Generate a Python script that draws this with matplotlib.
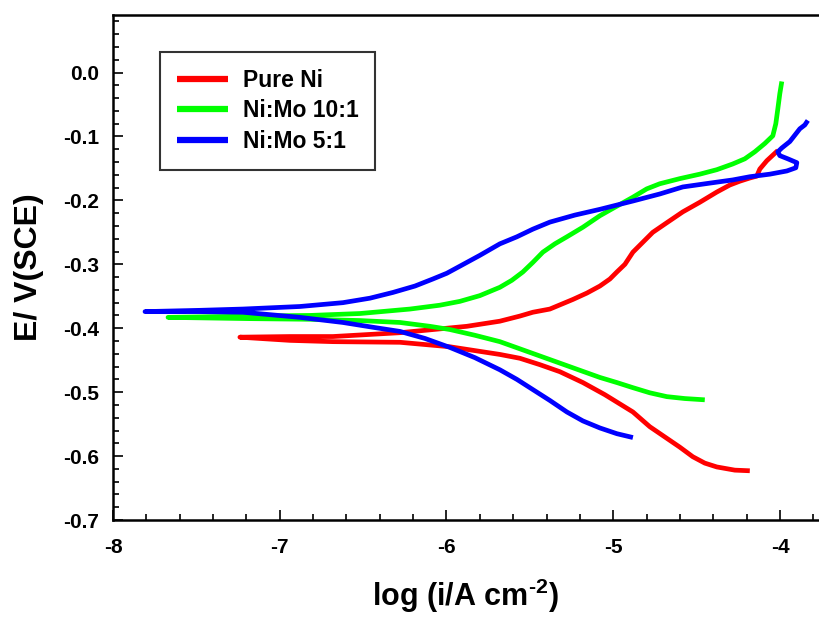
import matplotlib
matplotlib.use("Agg")
import matplotlib.pyplot as plt
from matplotlib.ticker import MultipleLocator

plt.rcParams['font.family'] = ['Liberation Sans', 'DejaVu Sans']
plt.rcParams['font.weight'] = 'bold'
plt.rcParams['axes.unicode_minus'] = False
plt.rcParams['mathtext.fontset'] = 'custom'
plt.rcParams['mathtext.rm'] = 'Liberation Sans:bold'
plt.rcParams['mathtext.bf'] = 'Liberation Sans:bold'

# Pure Ni: cathodic end -> Ecorr tip -> anodic end
ni_logi = [-4.181, -4.271, -4.379, -4.451, -4.523, -4.601, -4.781, -4.882, -5.050, -5.182,
           -5.320, -5.440, -5.560, -5.680, -5.980, -6.279, -6.681, -6.939,
           -7.239,
           -6.939, -6.681, -6.279, -5.878, -5.680, -5.560, -5.482, -5.380, -5.242, -5.158,
           -5.080, -5.020, -4.978, -4.930, -4.882, -4.763, -4.679, -4.583, -4.481, -4.379,
           -4.301, -4.241, -4.181, -4.139, -4.121, -4.079, -4.013]
ni_E = [-0.623, -0.622, -0.617, -0.611, -0.601, -0.586, -0.554, -0.531, -0.504, -0.485,
        -0.468, -0.457, -0.447, -0.441, -0.429, -0.422, -0.421, -0.419,
        -0.414,
        -0.413, -0.413, -0.407, -0.397, -0.389, -0.381, -0.375, -0.370, -0.355, -0.345,
        -0.334, -0.323, -0.312, -0.300, -0.281, -0.250, -0.235, -0.218, -0.203, -0.187,
        -0.176, -0.170, -0.165, -0.162, -0.151, -0.138, -0.122]

# Ni:Mo 10:1
m10_logi = [-4.451, -4.571, -4.679, -4.781, -4.882, -4.978, -5.080, -5.230, -5.380, -5.530,
            -5.680, -5.830, -5.980, -6.100, -6.279, -6.519, -6.819, -7.179,
            -7.670,
            -7.179, -6.819, -6.519, -6.219, -6.040, -5.920, -5.800, -5.680, -5.608, -5.542,
            -5.482, -5.422, -5.350, -5.278, -5.182, -5.080, -4.978, -4.882, -4.799, -4.721,
            -4.601, -4.481, -4.379, -4.283, -4.211, -4.151, -4.091, -4.043, -4.025, -4.013,
            -4.001, -3.989]
m10_E = [-0.512, -0.510, -0.507, -0.501, -0.493, -0.485, -0.477, -0.463, -0.449, -0.435,
         -0.421, -0.411, -0.402, -0.397, -0.391, -0.388, -0.386, -0.385,
         -0.383,
         -0.381, -0.380, -0.377, -0.370, -0.364, -0.358, -0.349, -0.336, -0.325, -0.312,
         -0.297, -0.281, -0.268, -0.257, -0.242, -0.224, -0.209, -0.195, -0.182, -0.174,
         -0.166, -0.159, -0.152, -0.143, -0.135, -0.124, -0.111, -0.099, -0.080, -0.057,
         -0.033, -0.014]

# Ni:Mo 5:1
m5_logi = [-4.882, -4.978, -5.080, -5.182, -5.278, -5.380, -5.482, -5.578, -5.680, -5.830,
           -5.980, -6.129, -6.279, -6.429, -6.621, -6.879, -7.221, -7.478,
           -7.808,
           -7.478, -7.221, -6.879, -6.621, -6.459, -6.321, -6.189, -6.082, -5.998, -5.920,
           -5.800, -5.680, -5.578, -5.482, -5.380, -5.230, -5.080, -4.882, -4.721, -4.583,
           -4.421, -4.283, -4.181, -4.061, -3.959, -3.905, -3.899, -3.953, -4.001, -4.013,
           -3.989, -3.941, -3.881, -3.851, -3.833]
m5_E = [-0.571, -0.565, -0.556, -0.545, -0.531, -0.513, -0.496, -0.480, -0.465, -0.446,
        -0.430, -0.416, -0.405, -0.399, -0.391, -0.383, -0.375, -0.374,
        -0.374,
        -0.372, -0.370, -0.366, -0.360, -0.353, -0.344, -0.334, -0.323, -0.314, -0.303,
        -0.286, -0.268, -0.257, -0.245, -0.234, -0.223, -0.214, -0.201, -0.190, -0.179,
        -0.173, -0.168, -0.163, -0.159, -0.154, -0.149, -0.141, -0.135, -0.130, -0.124,
        -0.118, -0.108, -0.088, -0.082, -0.075]

fig = plt.figure(figsize=(8.19, 6.17), dpi=100)
ax = fig.add_axes([113 / 819, 97 / 617, 705 / 819, 505 / 617])

style = dict(lw=3.4, solid_capstyle='butt', solid_joinstyle='round')
ax.plot(ni_logi, ni_E, color='#ff0000', label='Pure Ni', **style)
ax.plot(m10_logi, m10_E, color='#00ff00', label='Ni:Mo 10:1', **style)
ax.plot(m5_logi, m5_E, color='#0000ff', label='Ni:Mo 5:1', **style)

ax.set_xlim(-8, -3.772)
ax.set_ylim(-0.7, 0.09)
ax.xaxis.set_major_locator(MultipleLocator(1))
ax.xaxis.set_minor_locator(MultipleLocator(0.2))
ax.yaxis.set_major_locator(MultipleLocator(0.1))
ax.yaxis.set_minor_locator(MultipleLocator(0.02))
ax.yaxis.set_major_formatter(plt.FuncFormatter(lambda v, p: "0.0" if abs(v) < 1e-9 else f"{v:.1f}"))

ax.tick_params(which='both', direction='in', width=1.2, labelsize=15, top=False, right=False)
ax.tick_params(which='major', length=7, pad=10)
ax.tick_params(axis='x', which='major', pad=13)
ax.tick_params(which='minor', length=4)
for s in ['left', 'bottom', 'top']:
    ax.spines[s].set_linewidth(1.8)
ax.spines['right'].set_visible(False)

ax.set_xlabel(r'log (i/A cm$^{\text{-2}}$)', fontsize=22, fontweight='bold', labelpad=14)
ax.set_ylabel('E/ V(SCE)', fontsize=23, fontweight='bold', labelpad=14)

leg = ax.legend(loc='upper left', bbox_to_anchor=(0.0667, 0.927), fontsize=16.5,
                frameon=True, fancybox=False, edgecolor='black', handlelength=2.2,
                handletextpad=0.65, labelspacing=0.32, borderpad=0.75, borderaxespad=0)
leg.get_frame().set_linewidth(1.5)
for line in leg.get_lines():
    line.set_linewidth(4.5)

fig.savefig('out.png', dpi=100)
